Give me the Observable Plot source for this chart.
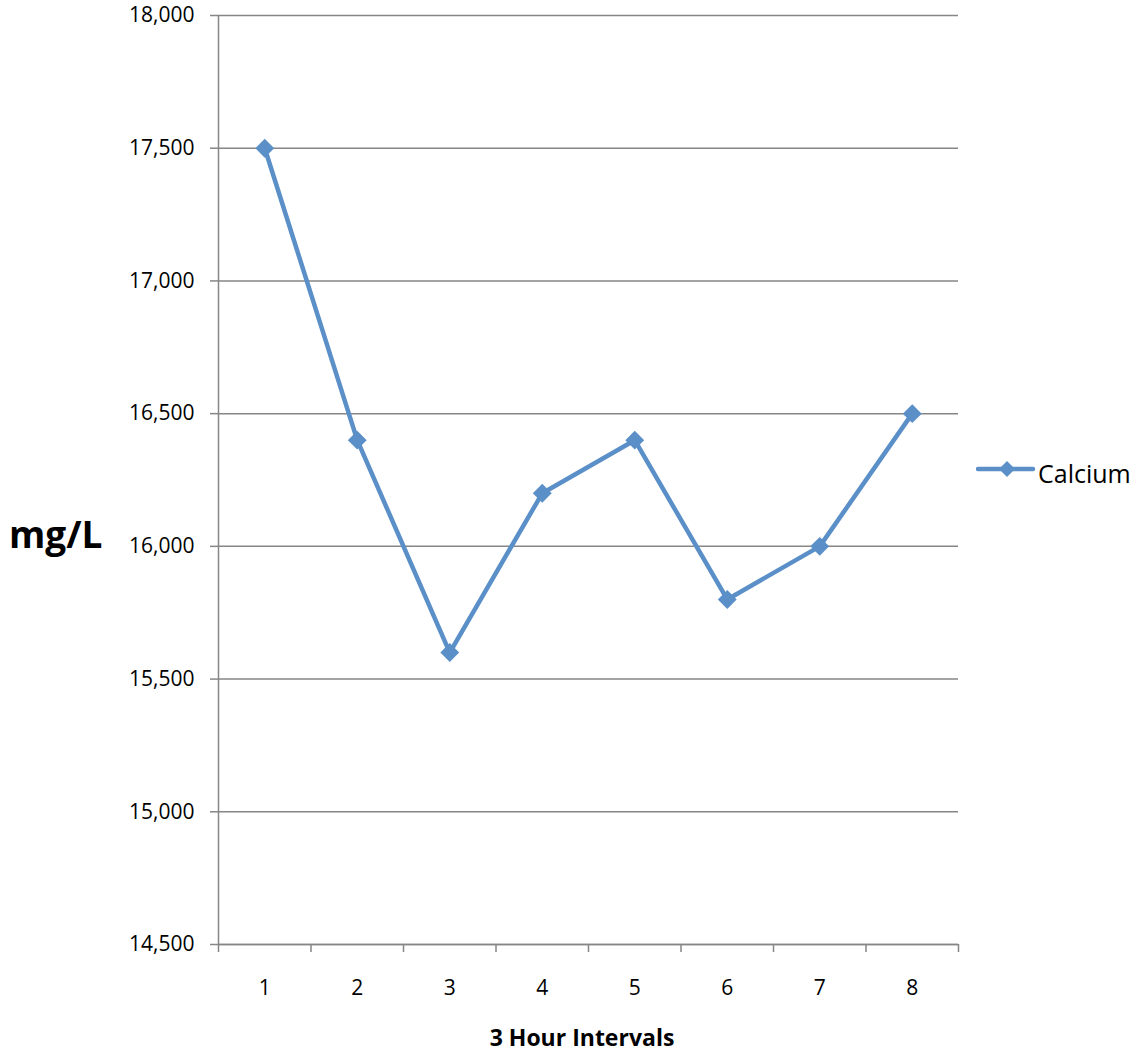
<!DOCTYPE html>
<html><head><meta charset="utf-8">
<script src="https://cdn.jsdelivr.net/npm/d3@7"></script>
<script src="https://cdn.jsdelivr.net/npm/@observablehq/plot@0.6"></script>
<style>
html,body{margin:0;padding:0;background:#fff;overflow:hidden;}
#wrap{position:relative;width:1137px;height:1053px;font-family:"Open Sans",sans-serif;}
#legend{position:absolute;left:976px;top:458px;height:30px;display:flex;align-items:center;font-size:25px;color:#000;}
#ylabel{position:absolute;left:9px;top:512px;font-size:37px;font-weight:bold;line-height:1.2;}
#xlabel{position:absolute;left:0;width:1164px;text-align:center;top:1025px;font-size:23px;font-weight:bold;line-height:1.1;}
#chart svg g[aria-label="y-axis tick label"] text,
#chart svg g[aria-label="x-axis tick label"] text{font-size:21px !important;}
</style></head>
<body><div id="wrap"><div id="chart"></div>
<div id="ylabel">mg/L</div>
<div id="xlabel">3 Hour Intervals</div>
<div id="legend"><svg width="60" height="30" style="margin-top:-8px"><line x1="2" y1="15" x2="57" y2="15" stroke="#5a8fc8" stroke-width="4.5" stroke-linecap="round"/><path d="M31,7 L39,15 L31,23 L23,15Z" fill="#5a8fc8"/></svg><span style="margin-left:2px">Calcium</span></div>
</div>
<script>
const intervals = [1, 2, 3, 4, 5, 6, 7, 8];
const calcium = [17500, 16400, 15600, 16200, 16400, 15800, 16000, 16500];
const yTicks = [14500, 15000, 15500, 16000, 16500, 17000, 17500, 18000];
const xBoundaries = [0.5, 1.5, 2.5, 3.5, 4.5, 5.5, 6.5, 7.5, 8.5];
const seriesName = "Calcium";
const color = "#5a8fc8";
const data = intervals.map((x, i) => ({x, y: calcium[i], series: seriesName}));
const fmt = d3.format(",");
const chart = Plot.plot({
  width: 1137, height: 1053,
  marginLeft: 218, marginRight: 179, marginTop: 15, marginBottom: 109,
  style: {fontFamily: "Open Sans, sans-serif", fontSize: "21px", color: "#000", background: "#fff"},
  x: {type: "linear", domain: [0.5, 8.5]},
  y: {domain: [14500, 18000]},
  marks: [
    Plot.gridY(yTicks, {stroke: "#868686", strokeOpacity: 1, strokeWidth: 1.5}),
    Plot.axisY(yTicks, {tickSize: 8, tickPadding: 16, tickFormat: fmt, stroke: "#868686", strokeWidth: 1.5, fill: "#000", label: null, fontSize: 21}),
    Plot.ruleX([0.5], {stroke: "#868686", strokeWidth: 1.5}),
    Plot.ruleY([14500], {stroke: "#868686", strokeWidth: 1.5}),
    Plot.axisX(xBoundaries, {tickSize: 8, tickFormat: () => "", stroke: "#868686", strokeWidth: 1.5, label: null}),
    Plot.axisX(intervals, {tickSize: 0, tickPadding: 36, fill: "#000", label: null, fontSize: 21}),
    Plot.line(data, {x: "x", y: "y", stroke: color, strokeWidth: 4.5}),
    Plot.dot(data, {x: "x", y: "y", symbol: "diamond2", r: 8.5, fill: color})
  ]
});
document.getElementById("chart").appendChild(chart);
</script>
</body></html>
